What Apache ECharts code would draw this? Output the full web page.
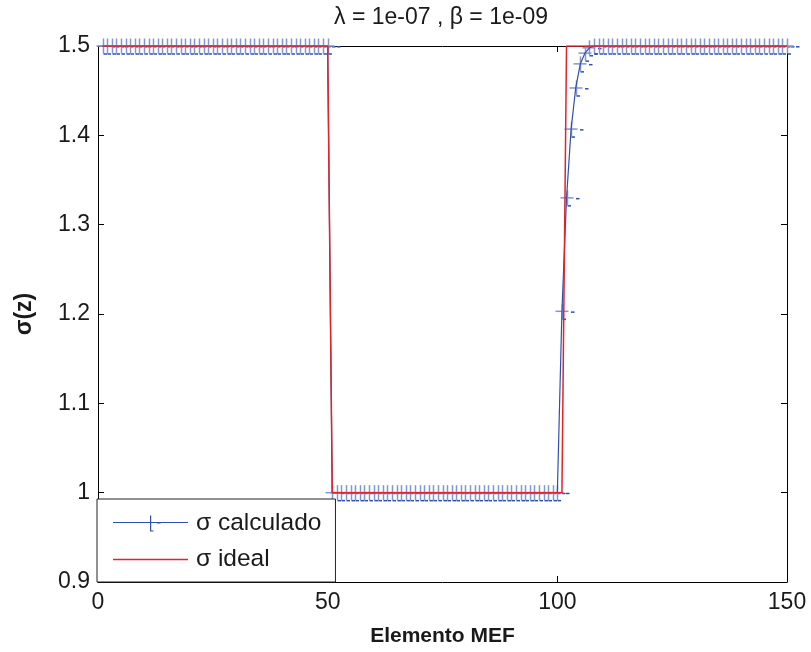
<!DOCTYPE html>
<html>
<head>
<meta charset="utf-8">
<script src="https://cdn.jsdelivr.net/npm/echarts@6/dist/echarts.min.js"></script>
<style>html,body{margin:0;padding:0;background:#fff}#c{width:811px;height:652px}</style>
</head>
<body>
<div id="c"></div>
<script>
// Element indices (x)
const elements = [
  1,2,3,4,5,6,7,8,9,10,
  11,12,13,14,15,16,17,18,19,20,
  21,22,23,24,25,26,27,28,29,30,
  31,32,33,34,35,36,37,38,39,40,
  41,42,43,44,45,46,47,48,49,50,
  51,52,53,54,55,56,57,58,59,60,
  61,62,63,64,65,66,67,68,69,70,
  71,72,73,74,75,76,77,78,79,80,
  81,82,83,84,85,86,87,88,89,90,
  91,92,93,94,95,96,97,98,99,100,
  101,102,103,104,105,106,107,108,109,110,
  111,112,113,114,115,116,117,118,119,120,
  121,122,123,124,125,126,127,128,129,130,
  131,132,133,134,135,136,137,138,139,140,
  141,142,143,144,145,146,147,148,149,150
];
// sigma calculado
const sigmaCalculado = [
  1.5,1.5,1.5,1.5,1.5,1.5,1.5,1.5,1.5,1.5,
  1.5,1.5,1.5,1.5,1.5,1.5,1.5,1.5,1.5,1.5,
  1.5,1.5,1.5,1.5,1.5,1.5,1.5,1.5,1.5,1.5,
  1.5,1.5,1.5,1.5,1.5,1.5,1.5,1.5,1.5,1.5,
  1.5,1.5,1.5,1.5,1.5,1.5,1.5,1.5,1.5,1.5,
  1,1,1,1,1,1,1,1,1,1,
  1,1,1,1,1,1,1,1,1,1,
  1,1,1,1,1,1,1,1,1,1,
  1,1,1,1,1,1,1,1,1,1,
  1,1,1,1,1,1,1,1,1,1,
  1.203,1.330,1.407,1.453,1.480,1.492,1.498,1.5,1.5,1.5,
  1.5,1.5,1.5,1.5,1.5,1.5,1.5,1.5,1.5,1.5,
  1.5,1.5,1.5,1.5,1.5,1.5,1.5,1.5,1.5,1.5,
  1.5,1.5,1.5,1.5,1.5,1.5,1.5,1.5,1.5,1.5,
  1.5,1.5,1.5,1.5,1.5,1.5,1.5,1.5,1.5,1.5
];
// sigma ideal
const sigmaIdeal = [
  1.5,1.5,1.5,1.5,1.5,1.5,1.5,1.5,1.5,1.5,
  1.5,1.5,1.5,1.5,1.5,1.5,1.5,1.5,1.5,1.5,
  1.5,1.5,1.5,1.5,1.5,1.5,1.5,1.5,1.5,1.5,
  1.5,1.5,1.5,1.5,1.5,1.5,1.5,1.5,1.5,1.5,
  1.5,1.5,1.5,1.5,1.5,1.5,1.5,1.5,1.5,1.5,
  1,1,1,1,1,1,1,1,1,1,
  1,1,1,1,1,1,1,1,1,1,
  1,1,1,1,1,1,1,1,1,1,
  1,1,1,1,1,1,1,1,1,1,
  1,1,1,1,1,1,1,1,1,1,
  1,1.5,1.5,1.5,1.5,1.5,1.5,1.5,1.5,1.5,
  1.5,1.5,1.5,1.5,1.5,1.5,1.5,1.5,1.5,1.5,
  1.5,1.5,1.5,1.5,1.5,1.5,1.5,1.5,1.5,1.5,
  1.5,1.5,1.5,1.5,1.5,1.5,1.5,1.5,1.5,1.5,
  1.5,1.5,1.5,1.5,1.5,1.5,1.5,1.5,1.5,1.5
];
const xTicks = [0, 50, 100, 150];
const yTicks = [0.9, 1, 1.1, 1.2, 1.3, 1.4, 1.5];
const titleText = 'λ = 1e-07 , β = 1e-09';
const xName = 'Elemento MEF';
const yName = 'σ(z)';
const nameCalc = 'σ calculado';
const nameIdeal = 'σ ideal';

const BLUE = '#2f4fae';
const BLUE_LIGHT = '#8196d2';
const RED = '#e1232b';
const FONT = '"Liberation Sans", Arial, sans-serif';
const TXT = '#1a1a1a';

const calcData = elements.map((x, i) => [x, sigmaCalculado[i]]);
const idealData = elements.map((x, i) => [x, sigmaIdeal[i]]);

const chart = echarts.init(document.getElementById('c'), null, {renderer: 'canvas'});

function axisCommon(extra) {
  return Object.assign({
    axisLine: {show: true, onZero: false, lineStyle: {color: '#000', width: 1}},
    axisTick: {show: true, inside: true, length: 6, lineStyle: {color: '#000', width: 1}},
    splitLine: {show: false},
    axisLabel: {color: TXT, fontFamily: FONT, fontSize: 23}
  }, extra);
}

chart.setOption({
  color: [BLUE, BLUE, RED],
  backgroundColor: '#fff',
  animation: false,
  title: {
    text: titleText, left: 329, top: 1,
    textStyle: {fontFamily: FONT, fontSize: 23, fontWeight: 'normal', color: TXT}
  },
  grid: {left: 98, right: 24, top: 46, bottom: 70, containLabel: false},
  legend: {
    orient: 'vertical', left: 97, top: 499,
    itemWidth: 75, itemHeight: 16, itemGap: 11,
    padding: [12, 14, 10, 16],
    backgroundColor: '#fff', borderColor: '#222', borderWidth: 1,
    selectedMode: false,
    itemStyle: {borderWidth: 0},
    textStyle: {fontFamily: FONT, fontSize: 24.5, lineHeight: 25, color: TXT, padding: [0, 0, 0, 3]},
    data: [
      {name: nameCalc, icon: 'path://M0,6.5H75V7.5H0Z M37,0H38.2V16H37Z M37,15H40.5V16H37Z M44,6.8H47.5V8H44Z',
        itemStyle: {color: BLUE, borderColor: BLUE, borderWidth: 0}, lineStyle: {color: BLUE}},
      {name: nameIdeal, icon: 'path://M0,7.3H75V8.7H0Z',
        itemStyle: {color: RED, borderColor: RED, borderWidth: 0}, lineStyle: {color: RED}}
    ]
  },
  xAxis: [
    axisCommon({
      type: 'value', position: 'bottom', min: 0, max: 150, interval: 50,
      name: xName, nameLocation: 'middle', nameGap: 44,
      nameTextStyle: {fontFamily: FONT, fontSize: 21, fontWeight: 'bold', color: TXT},
      axisLabel: {color: TXT, fontFamily: FONT, fontSize: 23, margin: 9,
        formatter: v => xTicks.includes(v) ? String(v) : ''}
    }),
    axisCommon({
      type: 'value', position: 'top', min: 0, max: 150, interval: 50,
      axisLabel: {show: false}
    })
  ],
  yAxis: [
    axisCommon({
      type: 'value', position: 'left', min: 0.9, max: 1.5, interval: 0.1,
      name: yName, nameLocation: 'middle', nameGap: 62,
      nameTextStyle: {fontFamily: FONT, fontSize: 23, fontWeight: 'bold', color: TXT},
      axisLabel: {color: TXT, fontFamily: FONT, fontSize: 23, margin: 8,
        formatter: v => {
          const r = Math.round(v * 10) / 10;
          return yTicks.some(t => Math.abs(t - r) < 1e-9) ? String(r) : '';
        }}
    }),
    axisCommon({
      type: 'value', position: 'right', min: 0.9, max: 1.5, interval: 0.1,
      axisLabel: {show: false}
    })
  ],
  series: [
    {
      name: 'marks', type: 'custom', xAxisIndex: 0, yAxisIndex: 0, clip: false, z: 2,
      data: calcData,
      encode: {x: 0, y: 1},
      itemStyle: {color: BLUE},
      renderItem: function (params, api) {
        const p = api.coord([api.value(0), api.value(1)]);
        const x = Math.round(p[0]) + 0.5, y = p[1];
        return {
          type: 'group',
          children: [
            {type: 'line', shape: {x1: x, y1: y - 7.5, x2: x, y2: y + 7.5},
              style: {stroke: BLUE_LIGHT, lineWidth: 1.5}},
            {type: 'line', shape: {x1: x - 7, y1: y, x2: x + 6, y2: y},
              style: {stroke: BLUE_LIGHT, lineWidth: 1.5}},
            {type: 'line', shape: {x1: x, y1: y + 8, x2: x + 3.5, y2: y + 8},
              style: {stroke: BLUE, lineWidth: 1.5}},
            {type: 'line', shape: {x1: x + 8.5, y1: y + 0.8, x2: x + 12, y2: y + 0.8},
              style: {stroke: BLUE, lineWidth: 1.5}}
          ]
        };
      }
    },
    {
      name: nameCalc, type: 'line', data: calcData, xAxisIndex: 0, yAxisIndex: 0,
      showSymbol: false, symbol: 'none', z: 3,
      itemStyle: {color: BLUE},
      lineStyle: {color: BLUE, width: 1.2}
    },
    {
      name: nameIdeal, type: 'line', data: idealData, xAxisIndex: 0, yAxisIndex: 0,
      showSymbol: false, symbol: 'none', z: 4,
      itemStyle: {color: RED},
      lineStyle: {color: RED, width: 1.5}
    }
  ]
});
</script>
</body>
</html>
